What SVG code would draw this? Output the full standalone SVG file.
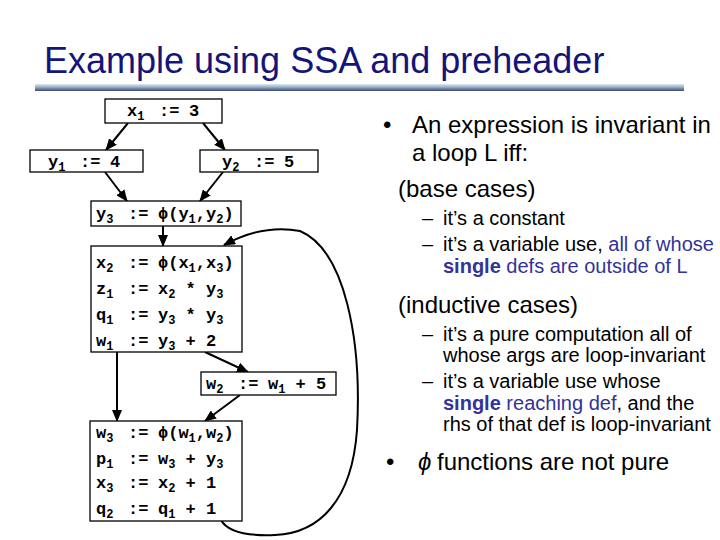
<svg xmlns="http://www.w3.org/2000/svg" width="720" height="540" viewBox="0 0 720 540">
<defs>
<linearGradient id="bar" x1="0" y1="0" x2="0" y2="1">
<stop offset="0" stop-color="#dce9ee"/>
<stop offset="0.45" stop-color="#98afc6"/>
<stop offset="1" stop-color="#3a4878"/>
</linearGradient>
<marker id="ah" viewBox="0 0 12 10" refX="11" refY="5" markerWidth="12" markerHeight="10" markerUnits="userSpaceOnUse" orient="auto">
<path d="M0,0 L12,5 L0,10 z" fill="#000"/>
</marker>
<style>
.box{fill:#fff;stroke:#000;stroke-width:1.3}
.code{font-family:"Courier New","Liberation Mono","DejaVu Sans Mono",monospace;font-weight:bold;font-size:17px;fill:#000}
.s{font-size:12px}
.edge{fill:none;stroke:#000;stroke-width:2;marker-end:url(#ah)}
.t{font-family:"Liberation Sans",Arial,sans-serif;fill:#000}
.big{font-size:24px}
.sm{font-size:20px}
.blue{fill:#333399}
</style>
</defs>
<rect width="720" height="540" fill="#fff"/>
<g id="title">
<text x="44" y="73" class="t" style="font-size:36px;fill:#14147a">Example using SSA and preheader</text>
<rect x="35" y="84" width="649" height="7" fill="url(#bar)"/>
</g>
<g id="connectors">
<line class="edge" x1="128" y1="123" x2="106" y2="150"/>
<line class="edge" x1="203" y1="123" x2="225" y2="150"/>
<line class="edge" x1="105" y1="172" x2="127" y2="201"/>
<line class="edge" x1="223" y1="172" x2="200" y2="201"/>
<line class="edge" x1="163" y1="226" x2="163" y2="246"/>
<line class="edge" x1="117" y1="352" x2="117" y2="421"/>
<line class="edge" x1="205" y1="352" x2="248" y2="372"/>
<line class="edge" x1="240" y1="395" x2="205" y2="421"/>
<path class="edge" d="M221 520 C228 533,250 536,275 535 C320 533,352 500,357 430 C362 340,345 250,300 231 C275 226,248 232,224 245"/>
</g>
<g id="n_x1">
<rect class="box" x="105" y="99" width="117" height="24"/>
<text class="code" x="127" y="116">x<tspan class="s" dy="4">1</tspan><tspan x="159" dy="-4">:=</tspan><tspan x="189">3</tspan></text>
</g>
<g id="n_y1">
<rect class="box" x="30" y="150" width="113" height="22"/>
<text class="code" x="48" y="167">y<tspan class="s" dy="4">1</tspan><tspan x="80" dy="-4">:=</tspan><tspan x="110">4</tspan></text>
</g>
<g id="n_y2">
<rect class="box" x="200" y="150" width="118" height="22"/>
<text class="code" x="222" y="167">y<tspan class="s" dy="4">2</tspan><tspan x="254" dy="-4">:=</tspan><tspan x="284">5</tspan></text>
</g>
<g id="n_y3">
<rect class="box" x="91" y="201" width="150" height="25"/>
<text class="code" x="96" y="219">y<tspan class="s" dy="4">3</tspan><tspan x="128" dy="-4">:=</tspan><tspan x="158">ϕ(y</tspan><tspan class="s" dy="4">1</tspan><tspan dy="-4">,y</tspan><tspan class="s" dy="4">2</tspan><tspan dy="-4">)</tspan></text>
</g>
<g id="n_loop1">
<rect class="box" x="91" y="246" width="151" height="106"/>
<text class="code" x="96" y="268">x<tspan class="s" dy="4">2</tspan><tspan x="128" dy="-4">:=</tspan><tspan x="158">ϕ(x</tspan><tspan class="s" dy="4">1</tspan><tspan dy="-4">,x</tspan><tspan class="s" dy="4">3</tspan><tspan dy="-4">)</tspan></text>
<text class="code" x="96" y="294">z<tspan class="s" dy="4">1</tspan><tspan x="128" dy="-4">:=</tspan><tspan x="158">x</tspan><tspan class="s" dy="4">2</tspan><tspan dy="-4"> * y</tspan><tspan class="s" dy="4">3</tspan></text>
<text class="code" x="96" y="320">q<tspan class="s" dy="4">1</tspan><tspan x="128" dy="-4">:=</tspan><tspan x="158">y</tspan><tspan class="s" dy="4">3</tspan><tspan dy="-4"> * y</tspan><tspan class="s" dy="4">3</tspan></text>
<text class="code" x="96" y="346">w<tspan class="s" dy="4">1</tspan><tspan x="128" dy="-4">:=</tspan><tspan x="158">y</tspan><tspan class="s" dy="4">3</tspan><tspan dy="-4"> + 2</tspan></text>
</g>
<g id="n_w2">
<rect class="box" x="201" y="372" width="135" height="23"/>
<text class="code" x="206" y="389">w<tspan class="s" dy="4">2</tspan><tspan x="238" dy="-4">:=</tspan><tspan x="268">w</tspan><tspan class="s" dy="4">1</tspan><tspan dy="-4"> + 5</tspan></text>
</g>
<g id="n_loop2">
<rect class="box" x="90" y="421" width="152" height="100"/>
<text class="code" x="96" y="438">w<tspan class="s" dy="4">3</tspan><tspan x="128" dy="-4">:=</tspan><tspan x="158">ϕ(w</tspan><tspan class="s" dy="4">1</tspan><tspan dy="-4">,w</tspan><tspan class="s" dy="4">2</tspan><tspan dy="-4">)</tspan></text>
<text class="code" x="96" y="464">p<tspan class="s" dy="4">1</tspan><tspan x="128" dy="-4">:=</tspan><tspan x="158">w</tspan><tspan class="s" dy="4">3</tspan><tspan dy="-4"> + y</tspan><tspan class="s" dy="4">3</tspan></text>
<text class="code" x="96" y="488">x<tspan class="s" dy="4">3</tspan><tspan x="128" dy="-4">:=</tspan><tspan x="158">x</tspan><tspan class="s" dy="4">2</tspan><tspan dy="-4"> + 1</tspan></text>
<text class="code" x="96" y="514">q<tspan class="s" dy="4">2</tspan><tspan x="128" dy="-4">:=</tspan><tspan x="158">q</tspan><tspan class="s" dy="4">1</tspan><tspan dy="-4"> + 1</tspan></text>
</g>
<g id="notes">
<text class="t big" x="383" y="133">•</text>
<text class="t big" x="412" y="133">An expression is invariant in</text>
<text class="t big" x="412" y="161">a loop L iff:</text>
<text class="t big" x="398" y="197">(base cases)</text>
<text class="t sm" x="422" y="225">–</text>
<text class="t sm" x="443" y="225">it’s a constant</text>
<text class="t sm" x="422" y="251">–</text>
<text class="t sm" x="443" y="251">it’s a variable use, <tspan class="blue">all of whose</tspan></text>
<text class="t sm blue" x="443" y="273"><tspan font-weight="bold">single</tspan> defs are outside of L</text>
<text class="t big" x="398" y="313">(inductive cases)</text>
<text class="t sm" x="422" y="341">–</text>
<text class="t sm" x="443" y="341">it’s a pure computation all of</text>
<text class="t sm" x="443" y="362">whose args are loop-invariant</text>
<text class="t sm" x="422" y="388">–</text>
<text class="t sm" x="443" y="388">it’s a variable use whose</text>
<text class="t sm" x="443" y="410"><tspan class="blue" font-weight="bold">single</tspan><tspan class="blue"> reaching def</tspan>, and the</text>
<text class="t sm" x="443" y="431">rhs of that def is loop-invariant</text>
<text class="t big" x="386" y="470">•</text>
<text class="t big" x="418" y="470" font-style="italic">ϕ</text>
<text class="t big" x="437" y="470">functions are not pure</text>
</g>
</svg>
